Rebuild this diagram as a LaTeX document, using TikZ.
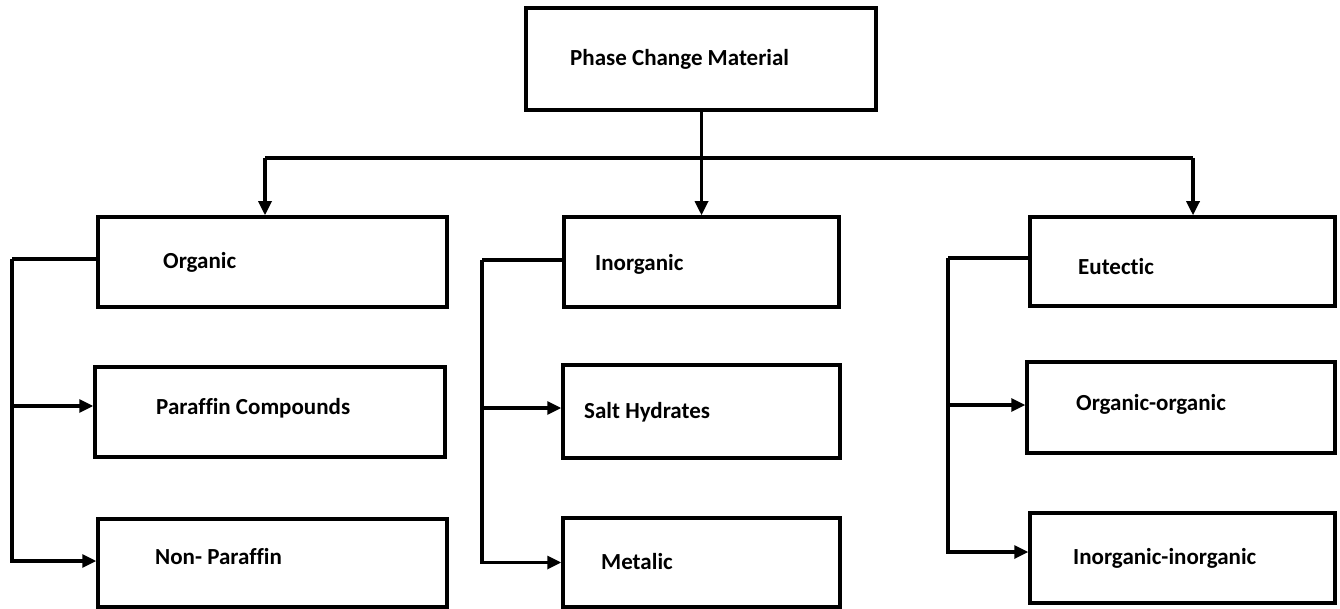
\documentclass[tikz,border=0pt]{standalone}
\usepackage{fontspec}
\setmainfont[Ligatures={NoCommon,NoRequired,NoContextual}]{Carlito}
\usetikzlibrary{arrows.meta}
\begin{document}
\begin{tikzpicture}[x=1pt,y=-1pt,
  box/.style={draw,line width=3.5pt,minimum width=#1,inner sep=0pt},
  lbl/.style={anchor=west,inner sep=0pt,font=\fontsize{23}{26}\selectfont\bfseries},
  conn/.style={line width=3.2pt},
  arr/.style={line width=3.2pt,-{Triangle[length=14pt,width=13pt]}}]
\useasboundingbox (0,0) rectangle (1340,609);
% boxes
\node[box=350pt,minimum height=102pt] (pcm) at (701,59) {};
\node[box=349pt,minimum height=90pt] (org) at (272.5,262) {};
\node[box=350pt,minimum height=90pt] (par) at (270,412) {};
\node[box=349pt,minimum height=88pt] (npar) at (272.5,563) {};
\node[box=275pt,minimum height=90pt] (inorg) at (701.5,262) {};
\node[box=277pt,minimum height=93pt] (salt) at (701.5,411.5) {};
\node[box=277pt,minimum height=89pt] (met) at (701.5,562.5) {};
\node[box=305pt,minimum height=89pt] (eut) at (1182.5,261.5) {};
\node[box=308pt,minimum height=91pt] (oo) at (1181,407.5) {};
\node[box=305pt,minimum height=90pt] (ii) at (1182.5,558) {};
% labels
\node[lbl] (tpcm) at (570,59) {Phase Change Material};
\node[lbl] (torg) at (163,262) {Organic};
\node[lbl] (tpar) at (156,408) {Paraffin Compounds};
\node[lbl] (tnpar) at (155,557) {Non- Paraffin};
\node[lbl] (tinorg) at (595,264) {Inorganic};
\node[lbl] (tsalt) at (584,412) {Salt Hydrates};
\node[lbl] (tmet) at (601,562) {Metalic};
\node[lbl] (teut) at (1078,267) {Eutectic};
\node[lbl] (too) at (1076,404) {Organic-organic};
\node[lbl] (tii) at (1073,558) {Inorganic-inorganic};
% top connectors
\coordinate (jL) at (265,158);
\coordinate (jR) at (1193,158);
\draw[arr] (pcm.south -| inorg.north) -- (inorg.north);
\draw[conn] (jL) -- (jR);
\draw[arr] (jL) -- (jL |- org.north);
\draw[arr] (jR) -- (jR |- eut.north);
% left branches
\coordinate (sL) at (12,259);
\coordinate (sM) at (482,260);
\coordinate (sR) at (948,258);
\draw[conn] (org.west |- sL) -- (sL);
\draw[arr] (sL) |- ([yshift=2pt]npar.west);
\draw[arr] (sL |- 0,406) -- (par.west |- 0,406);
\draw[conn] (inorg.west |- sM) -- (sM);
\draw[arr] (sM) |- (met.west);
\draw[arr] (sM |- 0,408) -- (salt.west |- 0,408);
\draw[conn] (eut.west |- sR) -- (sR);
\draw[arr] (sR) |- ([yshift=6pt]ii.west);
\draw[arr] (sR |- 0,405) -- (oo.west |- 0,405);
\end{tikzpicture}
\end{document}
